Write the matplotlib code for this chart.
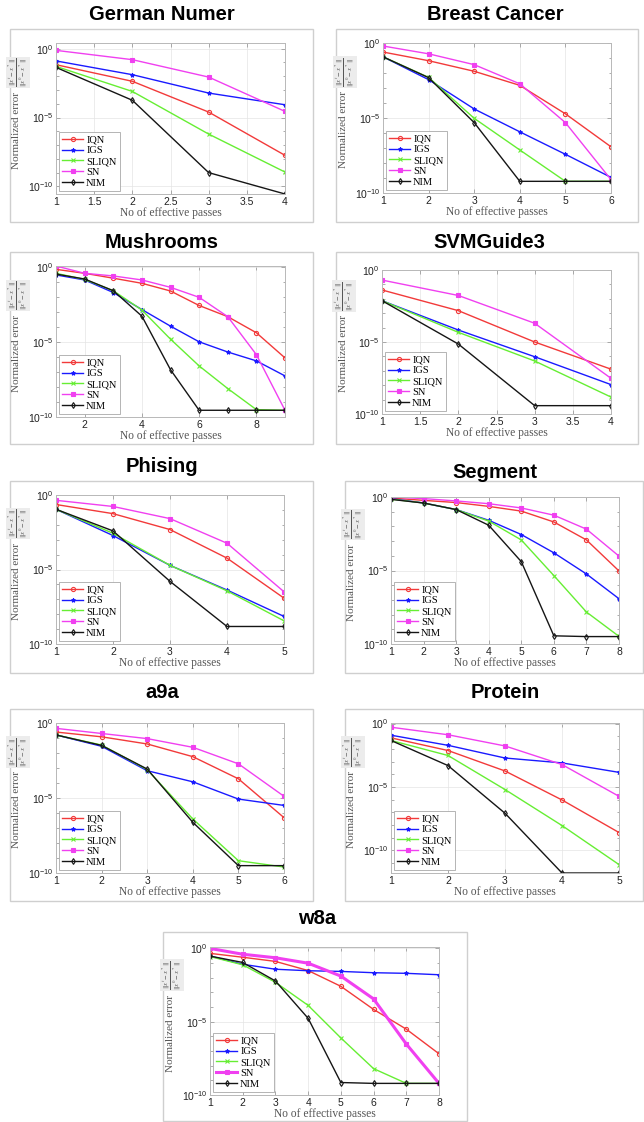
import math

import matplotlib
matplotlib.use("Agg")
import matplotlib.pyplot as plt
from matplotlib.patches import Rectangle
from matplotlib.ticker import FormatStrFormatter, NullFormatter

W, H = 644, 1122
plt.rcParams["font.family"] = ["Liberation Sans", "DejaVu Sans"]
plt.rcParams["mathtext.fontset"] = "stix"

SERIF = "Liberation Serif"
METHODS = ["IQN", "IGS", "SLIQN", "SN", "NIM"]
COLORS = {"IQN": "#f23a3a", "IGS": "#1a1aff", "SLIQN": "#66ee33",
          "SN": "#f040f0", "NIM": "#151515"}
MARKERS = {"IQN": "o", "IGS": "*", "SLIQN": "x", "SN": "s", "NIM": "d"}

# ---- data (normalized error per effective pass) ----
german_x = [1, 2, 3, 4]
german = {
    "IQN": [6.9e-2, 4.3e-3, 2.5e-5, 1.8e-8],
    "IGS": [1.3e-1, 1.3e-2, 6.0e-4, 8.5e-5],
    "SLIQN": [5.2e-2, 7.9e-4, 6.3e-7, 1.1e-9],
    "SN": [7.6e-1, 1.6e-1, 8.7e-3, 2.8e-5],
    "NIM": [4.4e-2, 1.8e-4, 1.0e-9, 2.8e-11],
}
breast_x = [1, 2, 3, 4, 5, 6]
breast = {
    "IQN": [2.5e-1, 6.6e-2, 1.3e-2, 1.5e-3, 1.9e-5, 1.2e-7],
    "IGS": [1.2e-1, 3.6e-3, 4.0e-5, 1.2e-6, 3.8e-8, 1.1e-9],
    "SLIQN": [1.2e-1, 5.1e-3, 9.5e-6, 7.4e-8, 6.0e-10, 6.0e-10],
    "SN": [6.3e-1, 1.9e-1, 3.6e-2, 1.9e-3, 4.9e-6, 7.8e-10],
    "NIM": [1.2e-1, 4.9e-3, 4.9e-6, 6.0e-10, 6.0e-10, 6.0e-10],
}
mushrooms_x = [1, 2, 3, 4, 5, 6, 7, 8, 9]
mushrooms = {
    "IQN": [6.6e-1, 3.6e-1, 1.7e-1, 7.8e-2, 2.4e-2, 2.6e-3, 4.7e-4, 4.0e-5, 8.5e-7],
    "IGS": [2.8e-1, 1.3e-1, 1.9e-2, 1.4e-3, 1.1e-4, 1.0e-5, 2.1e-6, 5.4e-7, 5.4e-8],
    "SLIQN": [3.6e-1, 1.4e-1, 2.5e-2, 1.3e-3, 1.5e-5, 2.5e-7, 7.8e-9, 3.1e-10, 2.8e-10],
    "SN": [1.1, 3.6e-1, 2.4e-1, 1.3e-1, 4.2e-2, 9.1e-3, 4.7e-4, 1.4e-6, 2.8e-10],
    "NIM": [3.2e-1, 1.5e-1, 2.5e-2, 5.1e-4, 1.4e-7, 2.8e-10, 2.8e-10, 2.8e-10, 2.8e-10],
}
svm_x = [1, 2, 3, 4]
svm = {
    "IQN": [4.1e-2, 1.5e-3, 1.0e-5, 1.3e-7],
    "IGS": [7.4e-3, 6.8e-5, 9.5e-7, 1.1e-8],
    "SLIQN": [7.4e-3, 4.7e-5, 4.8e-7, 1.5e-9],
    "SN": [2.0e-1, 1.7e-2, 2.0e-4, 3.0e-8],
    "NIM": [7.4e-3, 7.2e-6, 3.8e-10, 3.8e-10],
}
phising_x = [1, 2, 3, 4, 5]
phising = {
    "IQN": [2.3e-1, 5.6e-2, 4.8e-3, 5.8e-5, 1.2e-7],
    "IGS": [1.1e-1, 1.9e-3, 1.9e-5, 4.2e-7, 7.1e-9],
    "SLIQN": [1.1e-1, 2.7e-3, 1.9e-5, 3.7e-7, 3.6e-9],
    "SN": [4.4e-1, 1.7e-1, 2.6e-2, 5.8e-4, 3.2e-7],
    "NIM": [1.1e-1, 3.9e-3, 1.6e-6, 1.5e-9, 1.5e-9],
}
segment_x = [1, 2, 3, 4, 5, 6, 7, 8]
segment = {
    "IQN": [8.5e-1, 5.9e-1, 4.2e-1, 2.3e-1, 1.1e-1, 2.0e-2, 1.2e-3, 9.3e-6],
    "IGS": [7.8e-1, 3.9e-1, 1.4e-1, 2.6e-2, 2.8e-3, 1.6e-4, 5.8e-6, 1.2e-7],
    "SLIQN": [7.2e-1, 3.9e-1, 1.4e-1, 2.3e-2, 1.2e-3, 4.5e-6, 1.5e-8, 3.3e-10],
    "SN": [1.0, 7.8e-1, 5.4e-1, 3.5e-1, 1.8e-1, 5.8e-2, 6.5e-3, 9.5e-5],
    "NIM": [6.9e-1, 3.9e-1, 1.4e-1, 1.2e-2, 4.0e-5, 3.6e-10, 3.2e-10, 3.2e-10],
}
a9a_x = [1, 2, 3, 4, 5, 6]
a9a = {
    "IQN": [2.5e-1, 1.2e-1, 4.0e-2, 5.7e-3, 1.9e-4, 4.9e-7],
    "IGS": [1.6e-1, 2.8e-2, 6.6e-4, 1.2e-4, 8.5e-6, 3.2e-6],
    "SLIQN": [1.6e-1, 3.4e-2, 7.8e-4, 4.0e-7, 6.6e-10, 2.5e-10],
    "SN": [4.4e-1, 2.0e-1, 9.1e-2, 2.4e-2, 1.9e-3, 1.3e-5],
    "NIM": [1.6e-1, 3.2e-2, 8.5e-4, 2.4e-7, 3.1e-10, 3.1e-10],
}
protein_x = [1, 2, 3, 4, 5]
protein = {
    "IQN": [7.4e-2, 7.4e-3, 1.8e-4, 9.3e-7, 2.5e-9],
    "IGS": [1.2e-1, 1.9e-2, 1.9e-3, 7.8e-4, 1.4e-4],
    "SLIQN": [4.6e-2, 3.0e-3, 6.2e-6, 8.9e-9, 7.4e-12],
    "SN": [5.1e-1, 1.3e-1, 1.7e-2, 5.8e-4, 1.8e-6],
    "NIM": [4.6e-2, 4.8e-4, 8.3e-8, 1.6e-12, 1.6e-12],
}
w8a_x = [1, 2, 3, 4, 5, 6, 7, 8]
w8a = {
    "IQN": [4.6e-1, 2.5e-1, 1.3e-1, 3.1e-2, 2.6e-3, 6.9e-5, 3.1e-6, 6.5e-8],
    "IGS": [3.0e-1, 8.3e-2, 3.8e-2, 3.0e-2, 2.7e-2, 2.2e-2, 2.0e-2, 1.6e-2],
    "SLIQN": [2.8e-1, 7.6e-2, 4.9e-3, 1.3e-4, 7.8e-7, 6.3e-9, 6.2e-10, 6.2e-10],
    "SN": [1.0, 4.0e-1, 2.3e-1, 9.8e-2, 1.3e-2, 3.6e-4, 3.0e-7, 6.2e-10],
    "NIM": [3.0e-1, 1.1e-1, 6.0e-3, 1.7e-5, 7.1e-10, 6.2e-10, 6.2e-10, 6.2e-10],
}

# ---- layout in pixels: frame (l, r, t, b), axes (l, r, t, b), title (x, y)
PANELS = [
    ("German Numer", german_x, german, (10, 313, 29, 222), (56, 285, 43, 194),
     (162, 15), (2.8e-11, 2.6), [1, 1.5, 2, 2.5, 3, 3.5, 4], "%g"),
    ("Breast Cancer", breast_x, breast, (336, 638, 29, 222), (383, 611, 43, 193),
     (495, 15), (1e-10, 1), breast_x, "%d"),
    ("Mushrooms", mushrooms_x, mushrooms, (10, 313, 252, 444), (56, 285, 266, 417),
     (162, 243), (1e-10, 1.1), [2, 4, 6, 8], "%d"),
    ("SVMGuide3", svm_x, svm, (336, 638, 252, 444), (382, 611, 270, 414),
     (489, 243), (1e-10, 1), [1, 1.5, 2, 2.5, 3, 3.5, 4], "%g"),
    ("Phising", phising_x, phising, (10, 313, 481, 673), (56, 284, 495, 644),
     (162, 467), (1e-10, 1), phising_x, "%d"),
    ("Segment", segment_x, segment, (345, 643, 481, 673), (391, 619, 497, 644),
     (495, 472), (1e-10, 1), segment_x, "%d"),
    ("a9a", a9a_x, a9a, (10, 313, 709, 901), (56, 284, 723, 873),
     (162, 693), (1e-10, 1), a9a_x, "%d"),
    ("Protein", protein_x, protein, (345, 643, 709, 901), (391, 619, 723, 873),
     (505, 692), (1.6e-12, 1.1), protein_x, "%d"),
    ("w8a", w8a_x, w8a, (163, 467, 932, 1121), (210, 439, 947, 1095),
     (317, 918), (1e-10, 1.25), w8a_x, "%d"),
]


def fx(px):
    return px / W


def fy(py):
    return 1 - py / H


fig = plt.figure(figsize=(W / 100, H / 100), dpi=100, facecolor="white")

for title, xs, series, frame, box, tpos, ylim, xticks, fmt in PANELS:
    fl, fr, ft, fb = frame
    fig.add_artist(Rectangle((fx(fl), fy(fb)), fx(fr - fl), (fb - ft) / H,
                             transform=fig.transFigure, fill=False,
                             edgecolor="#cfcfcf", linewidth=1.0))
    fig.text(fx(tpos[0]), fy(tpos[1]), title, ha="center", va="center",
             fontsize=14.5, fontweight="bold", color="black")

    l, r, t, b = box
    ax = fig.add_axes([fx(l), fy(b), fx(r - l), (b - t) / H])
    for m in METHODS:
        lw = 2.2 if (title == "w8a" and m == "SN") else 1.0
        mfc = "none" if m in ("IQN", "NIM") else COLORS[m]
        ax.plot(xs, series[m], color=COLORS[m], marker=MARKERS[m],
                markersize=3, markerfacecolor=mfc, markeredgewidth=0.8,
                linewidth=lw, label=m)
    ax.set_yscale("log")
    ax.set_xlim(xs[0], xs[-1])
    ax.set_xticks(xticks)
    ax.xaxis.set_major_formatter(FormatStrFormatter(fmt))
    ax.set_yticks([1e-10, 1e-5, 1])
    lo = int(round(math.log10(ylim[0]))) - 1
    ax.set_yticks([10.0 ** k for k in range(lo, 1)], minor=True)
    ax.yaxis.set_minor_formatter(NullFormatter())
    ax.set_ylim(*ylim)
    ax.tick_params(which="both", direction="in", top=True, right=True,
                   color="#8c8c8c", labelsize=7.5, labelcolor="#222222", pad=2)
    ax.tick_params(which="major", length=3, width=0.5)
    ax.tick_params(which="minor", length=1.8, width=0.5)
    ax.grid(True, which="major", color="#e4e4e4", linewidth=0.5)
    for sp in ax.spines.values():
        sp.set_color("#b8b8b8")
        sp.set_linewidth(0.7)

    leg = ax.legend(loc="lower left", prop={"family": SERIF, "size": 7.5},
                    fancybox=False, framealpha=1, edgecolor="#a8a8a8",
                    borderpad=0.3, labelspacing=0.15, handlelength=2.0,
                    handletextpad=0.3, borderaxespad=0.3)
    leg.get_frame().set_linewidth(0.6)

    cy = (t + b) / 2
    fig.text(fx((l + r) / 2), fy(b + 19), "No of effective passes",
             ha="center", va="center", fontsize=8.3, family=SERIF,
             color="#555555")
    fig.text(fx(l - 39), fy(cy + 12), "Normalized error", rotation=90,
             ha="center", va="center", fontsize=8, family=SERIF,
             color="#555555")
    fig.text(fx(l - 38), fy(cy - 46),
             r"$\frac{\Vert x^t - x^* \Vert}{\Vert x^0 - x^* \Vert}$",
             rotation=90, ha="center", va="center", fontsize=7,
             color="#555555",
             bbox=dict(boxstyle="square,pad=0.1", facecolor="#ececec",
                       edgecolor="none"))

fig.savefig("out.png", dpi=100, facecolor="white")
